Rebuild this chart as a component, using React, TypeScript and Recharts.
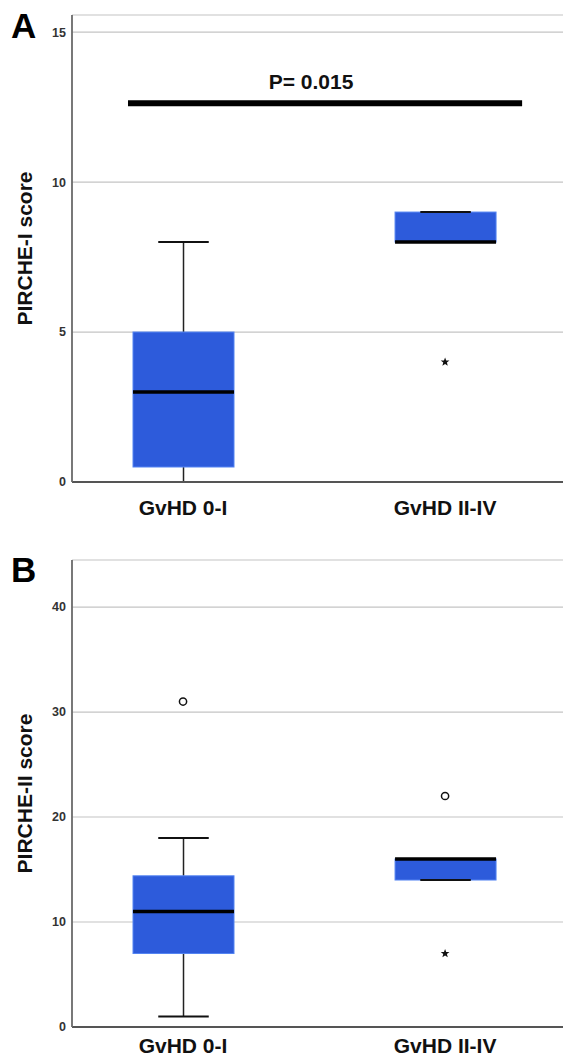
import {
  ComposedChart,
  Bar,
  Scatter,
  XAxis,
  YAxis,
  CartesianGrid,
  ReferenceLine,
  ReferenceDot,
} from 'recharts'

const GROUPS = ['GvHD 0-I', 'GvHD II-IV']
const GROUP_POS = [1, 2]

// Panel A - PIRCHE-I
const A_LOW = [0, 8]
const A_Q1 = [0.5, 8]
const A_MEDIAN = [3, 8]
const A_Q3 = [5, 9]
const A_HIGH = [8, 9]
const A_OUTLIERS: { pos: number; value: number }[] = []
const A_EXTREMES = [{ pos: 2, value: 4 }]
const A_TICKS = [0, 5, 10, 15]
const A_P_X = [0.79, 2.294]
const A_P_Y = 12.63
const A_P_TEXT = 'P= 0.015'
const A_P_TEXT_AT = { pos: 1.4885, value: 13.35 }

// Panel B - PIRCHE-II
const B_LOW = [1, 14]
const B_Q1 = [7, 14]
const B_MEDIAN = [11, 16]
const B_Q3 = [14.4, 16]
const B_HIGH = [18, 16]
const B_OUTLIERS = [
  { pos: 1, value: 31 },
  { pos: 2, value: 22 },
]
const B_EXTREMES = [{ pos: 2, value: 7 }]
const B_TICKS = [0, 10, 20, 30, 40]

const FONT = '"Liberation Sans", Arial, Helvetica, sans-serif'
const BOX_FILL = '#2d5bdb'
const BOX_EDGE = '#5484f2'

function buildRows(low: number[], q1: number[], med: number[], q3: number[], high: number[]) {
  return GROUP_POS.map((pos, i) => ({
    pos,
    range: [low[i], high[i]],
    q1: q1[i],
    median: med[i],
    q3: q3[i],
  }))
}

// draws one box-and-whisker from the range bar rectangle the library hands over
function BoxShape(props: any) {
  const { x, y, width, height, payload } = props
  const [lo, hi] = payload.range
  const top = Math.min(y, y + height)
  const h = Math.abs(height)
  const k = hi === lo ? 0 : h / (hi - lo)
  const py = (v: number) => top + (hi - v) * k
  const cx = x + width / 2
  const cap = width / 4
  const yQ1 = py(payload.q1)
  const yQ3 = py(payload.q3)
  return (
    <g>
      <line x1={cx} x2={cx} y1={py(hi)} y2={yQ3} stroke="#222" strokeWidth={1.5} />
      <line x1={cx} x2={cx} y1={yQ1} y2={py(lo)} stroke="#222" strokeWidth={1.5} />
      <rect
        x={x}
        y={yQ3}
        width={width}
        height={Math.max(yQ1 - yQ3, 0)}
        fill={BOX_FILL}
        stroke={BOX_EDGE}
        strokeWidth={1}
      />
      <line x1={cx - cap} x2={cx + cap} y1={py(hi)} y2={py(hi)} stroke="#111" strokeWidth={2} />
      <line x1={cx - cap} x2={cx + cap} y1={py(lo)} y2={py(lo)} stroke="#111" strokeWidth={2} />
      <line
        x1={x}
        x2={x + width}
        y1={py(payload.median)}
        y2={py(payload.median)}
        stroke="#000"
        strokeWidth={3.5}
      />
    </g>
  )
}

function CircleMark(props: any) {
  const { cx, cy } = props
  return <circle cx={cx} cy={cy} r={3.6} fill="#fff" stroke="#111" strokeWidth={1.5} />
}

function StarMark(props: any) {
  const { cx, cy } = props
  const pts: string[] = []
  for (let i = 0; i < 10; i++) {
    const r = i % 2 === 0 ? 4.6 : 1.9
    const a = -Math.PI / 2 + (i * Math.PI) / 5
    pts.push(`${cx + r * Math.cos(a)},${cy + r * Math.sin(a)}`)
  }
  return <polygon points={pts.join(' ')} fill="#111" />
}

function YTitle(props: any) {
  const { viewBox, text } = props
  const cy = viewBox ? viewBox.y + viewBox.height / 2 : 250
  const cx = 24
  return (
    <text
      x={cx}
      y={cy}
      transform={`rotate(-90 ${cx} ${cy})`}
      textAnchor="middle"
      dominantBaseline="central"
      fontFamily={FONT}
      fontWeight={700}
      fontSize={21}
      fill="#111"
    >
      {text}
    </text>
  )
}

interface PanelProps {
  height: number
  top: number
  xHeight: number
  labelGap: number
  yMax: number
  ticks: number[]
  title: string
  rows: ReturnType<typeof buildRows>
  outliers: { pos: number; value: number }[]
  extremes: { pos: number; value: number }[]
  children?: any
}

function Panel({ height, top, xHeight, labelGap, yMax, ticks, title, rows, outliers, extremes, children }: PanelProps) {
  return (
    <ComposedChart
      width={563}
      height={height}
      data={rows}
      margin={{ top, right: 0, bottom: 0, left: 0 }}
      style={{ fontFamily: FONT }}
    >
      <CartesianGrid vertical={false} stroke="#c4c4c4" strokeWidth={1.2} />
      <XAxis
        type="number"
        dataKey="pos"
        domain={[0.5763, 2.45]}
        allowDataOverflow
        ticks={GROUP_POS}
        tickFormatter={(v: number) => GROUPS[v - 1] ?? ''}
        height={xHeight}
        tickLine={false}
        tickSize={6}
        tickMargin={labelGap}
        axisLine={{ stroke: '#555', strokeWidth: 1.8 }}
        tick={{ fontSize: 21, fontWeight: 700, fill: '#111', fontFamily: FONT }}
      />
      <YAxis
        type="number"
        domain={[0, yMax]}
        allowDataOverflow
        ticks={ticks}
        width={72}
        tickLine={false}
        tickSize={5}
        tickMargin={1}
        axisLine={{ stroke: '#6a6a6a', strokeWidth: 1.8 }}
        tick={{ fontSize: 12.5, fontWeight: 700, fill: '#333', fontFamily: FONT }}
        label={<YTitle text={title} />}
      />
      <Bar dataKey="range" barSize={101} shape={BoxShape} isAnimationActive={false} />
      {outliers.length > 0 && (
        <Scatter data={outliers} dataKey="value" shape={CircleMark} isAnimationActive={false} />
      )}
      <Scatter data={extremes} dataKey="value" shape={StarMark} isAnimationActive={false} />
      {children}
    </ComposedChart>
  )
}

const letterStyle = {
  position: 'absolute' as const,
  left: 11,
  fontFamily: FONT,
  fontWeight: 700,
  fontSize: 35,
  lineHeight: '35px',
  color: '#000',
}

export default function App() {
  const rowsA = buildRows(A_LOW, A_Q1, A_MEDIAN, A_Q3, A_HIGH)
  const rowsB = buildRows(B_LOW, B_Q1, B_MEDIAN, B_Q3, B_HIGH)
  return (
    <div style={{ position: 'relative', width: 563, height: 1059, background: '#fff' }}>
      <style>{'body{margin:0}'}</style>
      <Panel
        height={530}
        top={15}
        xHeight={48}
        labelGap={12}
        yMax={15.57}
        ticks={A_TICKS}
        title="PIRCHE-I score"
        rows={rowsA}
        outliers={A_OUTLIERS}
        extremes={A_EXTREMES}
      >
        <ReferenceLine
          segment={[
            { x: A_P_X[0], y: A_P_Y },
            { x: A_P_X[1], y: A_P_Y },
          ]}
          stroke="#000"
          strokeWidth={6}
        />
        <ReferenceDot
          x={A_P_TEXT_AT.pos}
          y={A_P_TEXT_AT.value}
          r={1}
          fill="none"
          stroke="none"
          label={{
            value: A_P_TEXT,
            position: 'center',
            fontSize: 21,
            fontWeight: 700,
            fill: '#111',
            fontFamily: FONT,
          }}
        />
      </Panel>
      <Panel
        height={529}
        top={30}
        xHeight={32}
        labelGap={5}
        yMax={44.48}
        ticks={B_TICKS}
        title="PIRCHE-II score"
        rows={rowsB}
        outliers={B_OUTLIERS}
        extremes={B_EXTREMES}
      />
      <div style={{ ...letterStyle, top: 8 }}>A</div>
      <div style={{ ...letterStyle, top: 552 }}>B</div>
    </div>
  )
}
